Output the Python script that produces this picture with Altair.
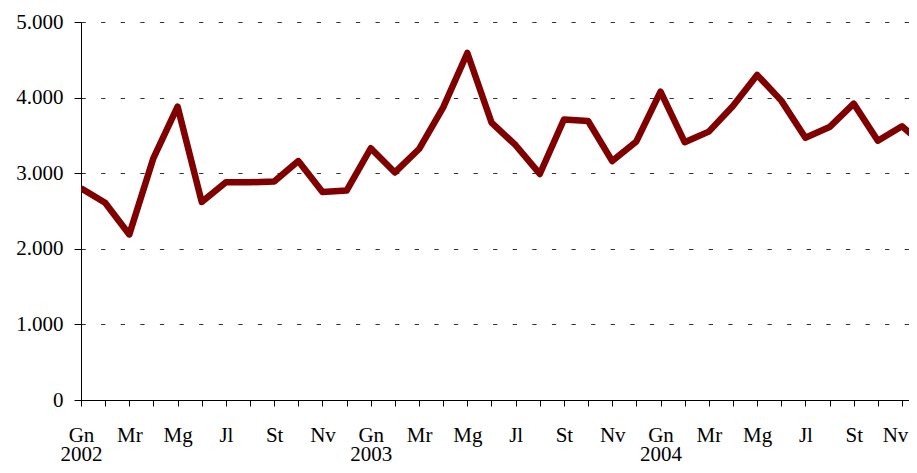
import altair as alt
import pandas as pd

months = ["Gn", "Fb", "Mr", "Ap", "Mg", "Gu", "Jl", "Ag", "St", "Ot", "Nv", "Dc"]
years = ["2002", "2003", "2004"]
values = [2800, 2610, 2190, 3200, 3880, 2620, 2880, 2880, 2890, 3160, 2750, 2770,
          3330, 3010, 3320, 3870, 4590, 3670, 3370, 2990, 3710, 3690, 3160, 3420,
          4080, 3410, 3550, 3890, 4300, 3960, 3470, 3610, 3920, 3430, 3620, 3350]
y_ticks = [0, 1000, 2000, 3000, 4000, 5000]

df = pd.DataFrame({"idx": list(range(len(values))), "value": values})

m_arr = "[" + ",".join(f"'{m}'" for m in months) + "]"
y_arr = "[" + ",".join(f"'{y}'" for y in years) + "]"
x_label_expr = (
    f"datum.value % 2 != 0 ? '' : (datum.value % 12 == 0 ? "
    f"[{m_arr}[datum.value % 12], {y_arr}[floor(datum.value / 12)]] : {m_arr}[datum.value % 12])"
)

x_max = 34.29

chart = alt.Chart(df).mark_line(
    color="#800000", strokeWidth=6.5, clip=True, strokeJoin="round"
).encode(
    x=alt.X("idx:Q",
            scale=alt.Scale(domain=[0, x_max], nice=False, zero=False),
            axis=alt.Axis(values=list(range(35)), labelExpr=x_label_expr,
                          grid=False, title=None, tickSize=6, labelPadding=18,
                          labelLineHeight=19, labelFlush=False, labelOverlap=False,
                          labelOffset={"condition": {"test": "datum.value == 34", "value": -7},
                                       "value": 0},
                          domainColor="black", tickColor="black")),
    y=alt.Y("value:Q",
            scale=alt.Scale(domain=[0, 5000], nice=False),
            axis=alt.Axis(values=y_ticks,
                          labelExpr="replace(format(datum.value, ','), ',', '.')",
                          grid=True, gridDash=[4.3, 15.3], gridColor="#333",
                          gridWidth=1, title=None, tickSize=7, labelPadding=11,
                          domainColor="black", tickColor="black")),
).properties(
    width=828, height=378,
    autosize=alt.AutoSizeParams(type="none"),
    padding={"left": 73, "top": 14, "right": 0, "bottom": 64},
).configure_view(stroke=None).configure_axis(
    labelFont="Liberation Serif", labelFontSize=21, labelColor="black",
    domainWidth=1, tickWidth=1,
)

chart.save("out.html", embed_options={"renderer": "svg", "actions": False})
